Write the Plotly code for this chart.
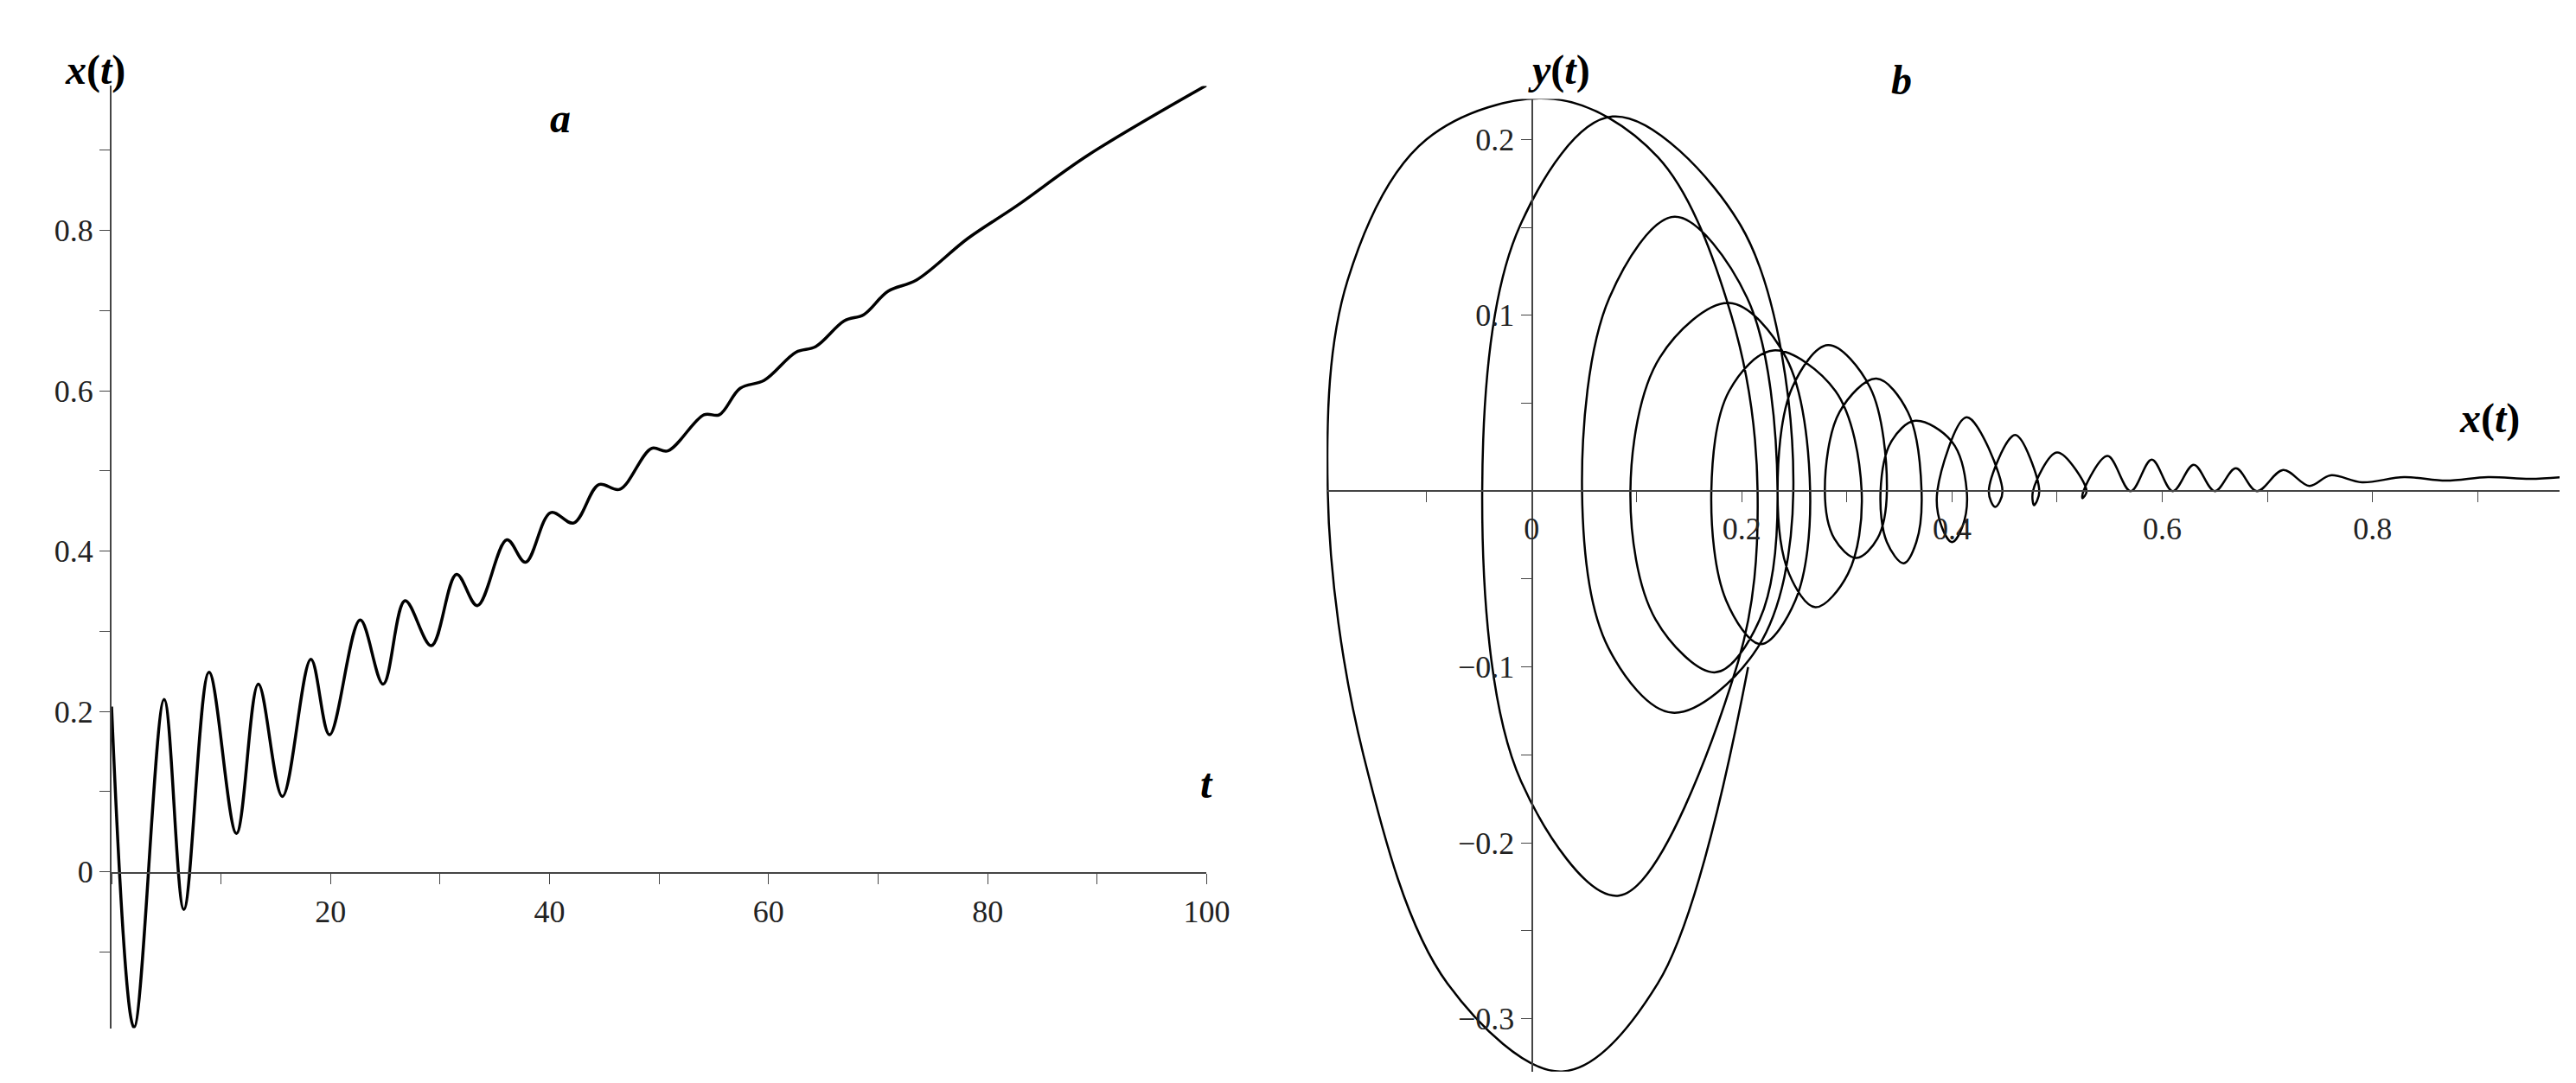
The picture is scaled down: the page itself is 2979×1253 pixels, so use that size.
import plotly.graph_objects as go

# panel a: x(t), points read at the extrema of the curve
t_vals = [0, 2.05, 4.8, 6.6, 8.9, 11.4, 13.4, 15.6, 18.2, 19.9, 22.7, 24.8, 26.8, 29.2,
          31.5, 33.4, 36.1, 37.8, 40.1, 42.2, 44.5, 46.4, 49.3, 50.8, 54.1, 55.5, 57.4,
          59.6, 62.5, 64.3, 66.9, 68.7, 70.9, 73.5, 78.2, 82.6, 89.2, 100]
x_vals = [0.206, -0.194, 0.215, -0.047, 0.249, 0.048, 0.234, 0.094, 0.265, 0.171, 0.314,
          0.234, 0.338, 0.282, 0.371, 0.332, 0.414, 0.386, 0.448, 0.435, 0.483, 0.477,
          0.528, 0.525, 0.57, 0.57, 0.603, 0.613, 0.648, 0.655, 0.687, 0.695, 0.724,
          0.738, 0.79, 0.83, 0.894, 0.981]

# panel b: phase portrait (x, y), points read around each loop
px_vals = [0.206, 0.12, 0.029, -0.08, -0.16, -0.194, -0.175, -0.1, 0.021, 0.12, 0.19, 0.215,
           0.195, 0.083, -0.01, -0.047,
           -0.011, 0.077, 0.199, 0.249, 0.215, 0.134, 0.073, 0.048,
           0.074, 0.136, 0.205, 0.234, 0.217, 0.175, 0.118, 0.094,
           0.122, 0.188, 0.242, 0.265, 0.251, 0.218, 0.185, 0.171,
           0.188, 0.23, 0.289, 0.314, 0.301, 0.27, 0.245, 0.234,
           0.248, 0.282, 0.322, 0.338, 0.329, 0.309, 0.288, 0.279,
           0.293, 0.328, 0.358, 0.371, 0.366, 0.354, 0.338, 0.332,
           0.342, 0.365, 0.4, 0.414, 0.41, 0.4, 0.39, 0.386,
           0.414, 0.448, 0.441, 0.435, 0.46, 0.483, 0.478,
           0.477, 0.5, 0.528, 0.524, 0.525, 0.548, 0.57, 0.59, 0.61, 0.63, 0.65, 0.67,
           0.69, 0.715, 0.74, 0.76, 0.79, 0.83, 0.87, 0.91, 0.95, 0.98]
py_vals = [-0.1, -0.28, -0.33, -0.28, -0.15, 0.0, 0.12, 0.2, 0.223, 0.19, 0.1, 0.0,
           -0.1, -0.23, -0.165, 0.0,
           0.151, 0.213, 0.151, 0.0, -0.089, -0.126, -0.089, 0.0,
           0.11, 0.156, 0.11, 0.0, -0.073, -0.103, -0.073, 0.0,
           0.076, 0.107, 0.076, 0.0, -0.062, -0.087, -0.062, 0.0,
           0.057, 0.08, 0.057, 0.0, -0.047, -0.066, -0.047, 0.0,
           0.059, 0.083, 0.059, 0.0, -0.027, -0.038, -0.027, 0.0,
           0.045, 0.064, 0.045, 0.0, -0.029, -0.041, -0.029, 0.0,
           0.028, 0.04, 0.028, 0.0, -0.02, -0.029, -0.02, 0.0,
           0.042, 0.0, -0.009, 0.0, 0.032, 0.0, -0.008,
           0.0, 0.022, 0.0, -0.004, 0.0, 0.02, 0.0, 0.018, 0.0, 0.015, 0.0, 0.013,
           0.0, 0.012, 0.003, 0.009, 0.005, 0.008, 0.006, 0.008, 0.007, 0.008]

font = dict(family="Liberation Serif", size=36, color="#222")
axis_common = dict(showgrid=False, zeroline=False, showline=True, linecolor="#444",
                   linewidth=2, ticks="outside", ticklen=12, tickcolor="#444",
                   tickfont=font, minor=dict(ticks="outside", ticklen=12, tickcolor="#444"))

fig = go.Figure()
fig.add_trace(go.Scatter(x=t_vals, y=x_vals, mode="lines", xaxis="x", yaxis="y",
                         line=dict(color="black", width=3.5, shape="spline", smoothing=1.0)))
fig.add_trace(go.Scatter(x=px_vals, y=py_vals, mode="lines", xaxis="x2", yaxis="y2",
                         line=dict(color="black", width=2.5, shape="spline", smoothing=1.0)))

fig.update_layout(
    width=2979, height=1253, margin=dict(l=0, r=0, t=0, b=0),
    plot_bgcolor="white", paper_bgcolor="white", showlegend=False,
    xaxis=dict(axis_common, domain=[0.041, 0.47], range=[0, 100], anchor="free", position=0.2,
               tickvals=[20, 40, 60, 80, 100], minor_dtick=10),
    yaxis=dict(axis_common, domain=[0.057, 0.927], range=[-0.195, 0.98],
               tickvals=[0, 0.2, 0.4, 0.6, 0.8], minor_dtick=0.1),
    xaxis2=dict(axis_common, domain=[0.517, 1.0], range=[-0.195, 0.978], anchor="free",
                position=0.553, tickvals=[0, 0.2, 0.4, 0.6, 0.8], minor_dtick=0.1),
    yaxis2=dict(axis_common, domain=[0.017, 0.915], range=[-0.33, 0.223], anchor="free",
                position=0.5974, tickvals=[-0.3, -0.2, -0.1, 0.1, 0.2], minor_dtick=0.05),
)

title_font = dict(family="Liberation Serif", size=48, color="black")
for txt, x, y in [("<b><i>x</i>(<i>t</i>)</b>", 0.022, 0.965), ("<b><i>a</i></b>", 0.212, 0.92),
                  ("<b><i>t</i></b>", 0.47, 0.26), ("<b><i>y</i>(<i>t</i>)</b>", 0.608, 0.965),
                  ("<b><i>b</i></b>", 0.747, 0.955), ("<b><i>x</i>(<i>t</i>)</b>", 0.985, 0.62)]:
    fig.add_annotation(text=txt, x=x, y=y, xref="paper", yref="paper", showarrow=False,
                       font=title_font)

fig.write_html("out.html")
